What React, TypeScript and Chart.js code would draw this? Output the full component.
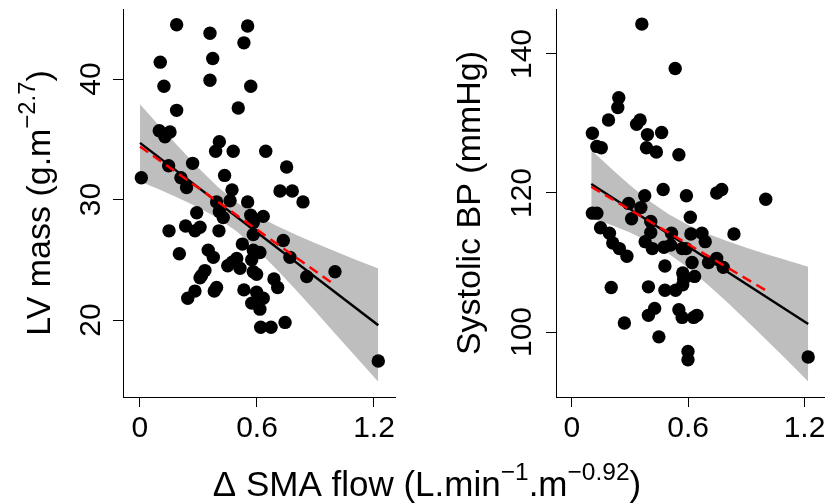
import { useEffect, useRef } from "react";
import { Chart, registerables } from "chart.js";

Chart.register(...registerables);

const FONT = '"Liberation Sans", Arial, Helvetica, sans-serif';

// ---- axes ----
const xTicks = [0, 0.6, 1.2];
const xTickLabels = ["0", "0.6", "1.2"];
const lvTicks = [20, 30, 40];
const lvTickLabels = ["20", "30", "40"];
const bpTicks = [100, 120, 140];
const bpTickLabels = ["100", "120", "140"];

// ---- LV mass panel ----
const lvX = [
  0.188, 0.359, 0.552, 0.533, 0.373, 0.104, 0.123, 0.359, 0.568, 0.188, 0.504, 0.099, 0.154, 0.128, 0.407,
  0.388, 0.478, 0.645, 0.752, 0.27, 0.147, 0.007, 0.21, 0.434, 0.239, 0.472, 0.718, 0.781, 0.836, 0.393,
  0.462, 0.552, 0.407, 0.291, 0.427, 0.568, 0.632, 0.581, 0.234, 0.308, 0.282, 0.149, 0.405, 0.581, 0.735,
  0.525, 0.202, 0.35, 0.376, 0.581, 0.615, 0.769, 0.573, 0.496, 0.473, 0.45, 0.513, 0.581, 0.598, 0.333,
  0.316, 0.308, 1.0, 0.855, 0.687, 0.706, 0.533, 0.393, 0.381, 0.282, 0.245, 0.598, 0.632, 0.573, 0.615,
  0.744, 0.619, 0.672, 1.222,
];
const lvY = [
  44.5, 43.8, 44.4, 43.0, 41.7, 41.4, 39.4, 39.9, 39.4, 37.4, 37.6, 35.7, 35.6, 35.2, 34.8,
  34.0, 34.0, 34.0, 32.7, 33.0, 32.8, 31.8, 31.8, 32.0, 31.0, 30.8, 30.7, 30.7, 29.8, 29.8,
  29.9, 29.8, 29.0, 28.9, 28.5, 28.7, 28.6, 28.1, 27.8, 27.7, 27.4, 27.4, 27.4, 27.1, 26.6,
  26.3, 25.5, 25.8, 25.2, 25.8, 25.6, 25.2, 25.0, 25.1, 24.8, 24.5, 24.3, 24.0, 23.8, 24.1,
  23.7, 23.5, 24.0, 23.6, 23.4, 22.7, 22.5, 22.7, 22.4, 22.4, 21.8, 22.3, 21.8, 21.4, 20.9,
  19.8, 19.4, 19.4, 16.6,
];
const lvFitX = [0, 1.222];
const lvFitY = [34.7, 19.57];
const lvRedX = [0, 1.0];
const lvRedY = [34.4, 22.9];
const lvBandX = [0, 0.1, 0.2, 0.3, 0.4, 0.5, 0.6, 0.7, 0.8, 0.9, 1.0, 1.1, 1.222];
const lvBandUpper = [37.9, 36.1, 34.33, 32.62, 31.04, 29.7, 28.66, 27.82, 27.08, 26.38, 25.71, 25.05, 24.27];
const lvBandLower = [31.5, 30.82, 30.11, 29.34, 28.44, 27.3, 25.86, 24.22, 22.48, 20.7, 18.89, 17.07, 14.87];

// ---- Systolic BP panel ----
const bpX = [
  0.361, 0.533, 0.242, 0.237, 0.189, 0.334, 0.352, 0.106, 0.39, 0.463, 0.129, 0.152, 0.385, 0.436, 0.552,
  0.471, 0.376, 0.591, 0.747, 0.773, 1.0, 0.293, 0.356, 0.106, 0.129, 0.308, 0.611, 0.407, 0.148, 0.194,
  0.407, 0.514, 0.614, 0.671, 0.836, 0.688, 0.378, 0.211, 0.245, 0.415, 0.475, 0.509, 0.569, 0.589, 0.284,
  0.747, 0.705, 0.62, 0.781, 0.48, 0.572, 0.633, 0.577, 0.572, 0.203, 0.395, 0.48, 0.535, 0.427, 0.395,
  0.552, 0.569, 0.645, 0.628, 0.271, 0.449, 0.599, 0.599, 1.219,
];
const bpY = [
  144.3, 137.9, 133.7, 132.3, 130.5, 129.9, 130.5, 128.6, 128.4, 128.7, 126.7, 126.5, 126.5, 125.9, 125.5,
  120.5, 119.6, 119.6, 120.0, 120.5, 119.1, 118.5, 117.9, 117.1, 117.1, 116.3, 116.5, 115.9, 115.0, 114.2,
  114.3, 114.2, 114.1, 114.2, 114.1, 113.0, 113.0, 112.8, 112.0, 112.0, 112.2, 112.5, 112.0, 112.0, 110.9,
  110.6, 110.0, 110.0, 109.3, 109.5, 108.5, 108.0, 107.6, 106.8, 106.4, 106.5, 106.0, 106.0, 103.4, 102.4,
  103.2, 102.1, 102.4, 102.1, 101.3, 99.3, 97.2, 96.0, 96.4,
];
const bpFitX = [0.1, 1.219];
const bpFitY = [121.3, 101.15];
const bpRedX = [0.1, 1.0];
const bpRedY = [120.9, 106.0];
const bpBandX = [0.1, 0.2, 0.3, 0.4, 0.5, 0.6, 0.7, 0.8, 0.9, 1.0, 1.1, 1.219];
const bpBandUpper = [126.19, 123.58, 121.1, 118.85, 116.94, 115.4, 114.15, 113.09, 112.13, 111.24, 110.39, 109.4];
const bpBandLower = [116.41, 115.42, 114.3, 112.95, 111.26, 109.2, 106.85, 104.31, 101.67, 98.96, 96.21, 92.88];

type Part = { t: string; sup?: boolean };
const lvTitle: Part[] = [{ t: "LV mass (g.m" }, { t: "\u22122.7", sup: true }, { t: ")" }];
const bpTitle: Part[] = [{ t: "Systolic BP (mmHg)" }];
const xTitle: Part[] = [
  { t: "\u0394 SMA flow (L.min" },
  { t: "\u22121", sup: true },
  { t: ".m" },
  { t: "\u22120.92", sup: true },
  { t: ")" },
];

const zip = (xs: number[], ys: number[]) => xs.map((x, i) => ({ x, y: ys[i] }));

function drawParts(ctx: CanvasRenderingContext2D, parts: Part[], size: number) {
  const supSize = size * 0.7;
  const widths = parts.map((p) => {
    ctx.font = `${p.sup ? supSize : size}px ${FONT}`;
    return ctx.measureText(p.t).width;
  });
  const total = widths.reduce((a, b) => a + b, 0);
  let x = -total / 2;
  ctx.textAlign = "left";
  ctx.textBaseline = "alphabetic";
  parts.forEach((p, i) => {
    ctx.font = `${p.sup ? supSize : size}px ${FONT}`;
    ctx.fillText(p.t, x, p.sup ? -size * 0.45 : 0);
    x += widths[i];
  });
}

type PanelOpts = {
  yTicks: number[];
  yTickLabels: string[];
  yTickBaseX: number;
  yTitle: Part[];
  yTitleBaseX: number;
  drawXTitle: boolean;
};

function makePlugin(o: PanelOpts) {
  return {
    id: "rtext",
    afterDraw(chart: any) {
      const ctx: CanvasRenderingContext2D = chart.ctx;
      const xs = chart.scales.x;
      const ys = chart.scales.y;
      ctx.save();
      ctx.fillStyle = "#000";
      ctx.font = `30px ${FONT}`;
      ctx.textAlign = "center";
      ctx.textBaseline = "alphabetic";
      xTicks.forEach((v, i) => {
        ctx.fillText(xTickLabels[i], xs.getPixelForValue(v), 437);
      });
      o.yTicks.forEach((v, i) => {
        ctx.save();
        ctx.translate(o.yTickBaseX, ys.getPixelForValue(v));
        ctx.rotate(-Math.PI / 2);
        ctx.font = `30px ${FONT}`;
        ctx.textAlign = "center";
        ctx.fillText(o.yTickLabels[i], 0, 0);
        ctx.restore();
      });
      const cy = (chart.chartArea.top + chart.chartArea.bottom) / 2;
      ctx.save();
      ctx.translate(o.yTitleBaseX, cy);
      ctx.rotate(-Math.PI / 2);
      drawParts(ctx, o.yTitle, 34);
      ctx.restore();
      if (o.drawXTitle) {
        ctx.save();
        ctx.translate(427, 496);
        drawParts(ctx, xTitle, 35);
        ctx.restore();
      }
      ctx.restore();
    },
  };
}

function makeConfig(p: {
  px: number[]; py: number[];
  fitX: number[]; fitY: number[];
  redX: number[]; redY: number[];
  bandX: number[]; bandU: number[]; bandL: number[];
  xmin: number; xmax: number; ymin: number; ymax: number;
  yTicks: number[];
  padding: { left: number; right: number; top: number; bottom: number };
  plugin: any;
}): any {
  const axisCommon = {
    type: "linear",
    ticks: { display: false },
    grid: {
      display: true,
      drawOnChartArea: false,
      drawTicks: true,
      tickLength: 10,
      tickColor: "#000",
      tickWidth: 1,
      color: "#000",
      lineWidth: 1,
    },
    border: { display: true, color: "#000", width: 1 },
  };
  return {
    type: "scatter",
    data: {
      datasets: [
        {
          type: "line",
          data: zip(p.redX, p.redY),
          borderColor: "#ff0000",
          borderWidth: 2.5,
          borderDash: [10, 6],
          pointRadius: 0,
          fill: false,
        },
        {
          type: "line",
          data: zip(p.fitX, p.fitY),
          borderColor: "#000",
          borderWidth: 2.5,
          pointRadius: 0,
          fill: false,
        },
        {
          type: "scatter",
          data: zip(p.px, p.py),
          pointRadius: 6.7,
          pointBackgroundColor: "#000",
          pointBorderWidth: 0,
          borderWidth: 0,
        },
        {
          type: "line",
          data: zip(p.bandX, p.bandU),
          borderColor: "rgba(0,0,0,0)",
          borderWidth: 0,
          pointRadius: 0,
          fill: "+1",
          backgroundColor: "rgb(190,190,190)",
        },
        {
          type: "line",
          data: zip(p.bandX, p.bandL),
          borderColor: "rgba(0,0,0,0)",
          borderWidth: 0,
          pointRadius: 0,
          fill: false,
        },
      ],
    },
    options: {
      responsive: false,
      animation: false,
      devicePixelRatio: 1,
      layout: { padding: p.padding },
      plugins: { legend: { display: false }, tooltip: { enabled: false } },
      events: [],
      scales: {
        x: {
          ...axisCommon,
          min: p.xmin,
          max: p.xmax,
          afterBuildTicks: (s: any) => {
            s.ticks = xTicks.map((v) => ({ value: v }));
          },
        },
        y: {
          ...axisCommon,
          min: p.ymin,
          max: p.ymax,
          afterBuildTicks: (s: any) => {
            s.ticks = p.yTicks.map((v) => ({ value: v }));
          },
        },
      },
    },
    plugins: [p.plugin],
  };
}

export default function App() {
  const leftRef = useRef<HTMLCanvasElement>(null);
  const rightRef = useRef<HTMLCanvasElement>(null);

  useEffect(() => {
    const left = new Chart(
      leftRef.current as HTMLCanvasElement,
      makeConfig({
        px: lvX, py: lvY,
        fitX: lvFitX, fitY: lvFitY,
        redX: lvRedX, redY: lvRedY,
        bandX: lvBandX, bandU: lvBandUpper, bandL: lvBandLower,
        xmin: -0.087, xmax: 1.3077, ymin: 13.61, ymax: 45.81,
        yTicks: lvTicks,
        padding: { left: 113, right: 436, top: 9, bottom: 97 },
        plugin: makePlugin({
          yTicks: lvTicks, yTickLabels: lvTickLabels, yTickBaseX: 100,
          yTitle: lvTitle, yTitleBaseX: 50, drawXTitle: true,
        }),
      })
    );
    const right = new Chart(
      rightRef.current as HTMLCanvasElement,
      makeConfig({
        px: bpX, py: bpY,
        fitX: bpFitX, fitY: bpFitY,
        redX: bpRedX, redY: bpRedY,
        bandX: bpBandX, bandU: bpBandUpper, bandL: bpBandLower,
        xmin: -0.0817, xmax: 1.302, ymin: 90.65, ymax: 146.47,
        yTicks: bpTicks,
        padding: { left: 546, right: 4, top: 9, bottom: 97 },
        plugin: makePlugin({
          yTicks: bpTicks, yTickLabels: bpTickLabels, yTickBaseX: 531,
          yTitle: bpTitle, yTitleBaseX: 480, drawXTitle: false,
        }),
      })
    );
    return () => {
      left.destroy();
      right.destroy();
    };
  }, []);

  return (
    <div style={{ position: "absolute", left: 0, top: 0, width: 831, height: 504, background: "#fff" }}>
      <canvas ref={leftRef} width={831} height={504} style={{ position: "absolute", left: 0, top: 0 }} />
      <canvas ref={rightRef} width={831} height={504} style={{ position: "absolute", left: 0, top: 0 }} />
    </div>
  );
}
